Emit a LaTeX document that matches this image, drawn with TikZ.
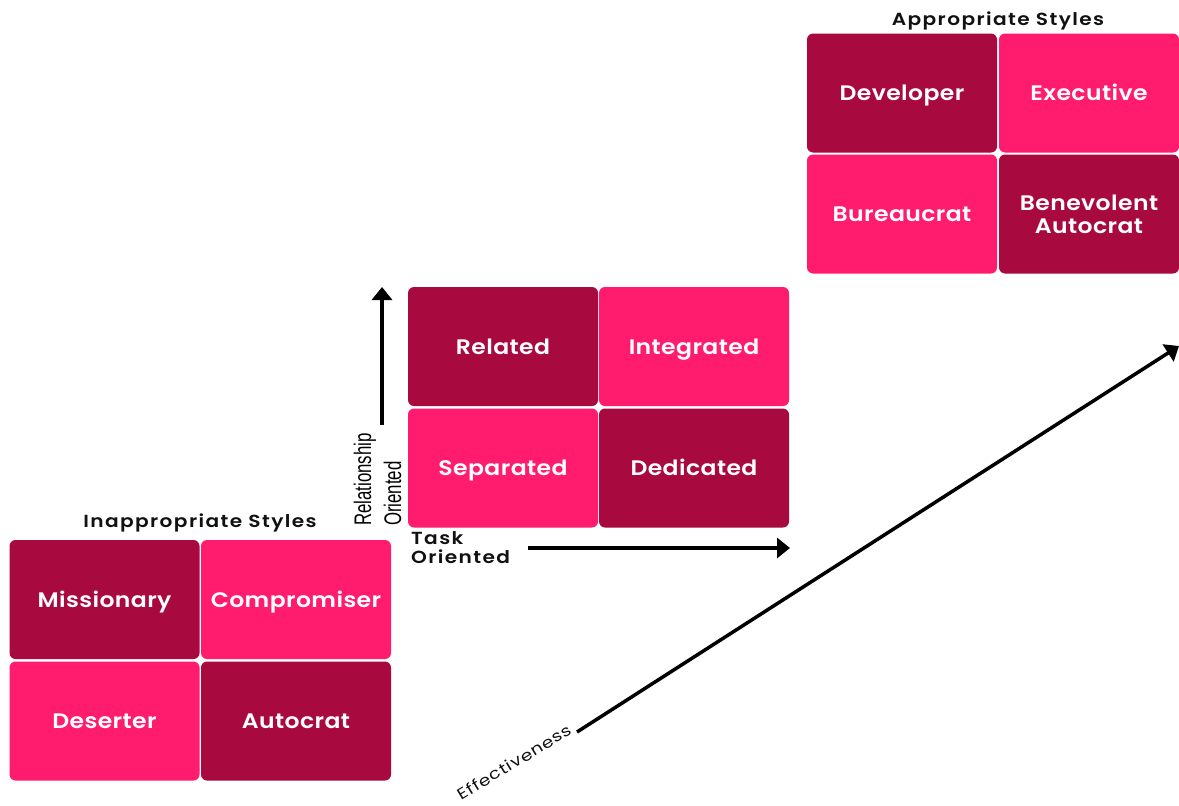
\documentclass[tikz,border=0pt]{standalone}
\usepackage{fontspec}
\setmainfont{Poppins}
\newfontfamily\cellfont{Poppins SemiBold}[FakeStretch=1.12, LetterSpace=2]
\newfontfamily\titlefont{Poppins SemiBold}[FakeStretch=1.15, LetterSpace=8]
\newfontfamily\effont{Poppins}[FakeStretch=1.2, LetterSpace=5]
\newfontfamily\axisfont{Liberation Sans}
\usetikzlibrary{arrows.meta}
\definecolor{darkc}{HTML}{A8093F}
\definecolor{lightc}{HTML}{FF1C6E}
\definecolor{inkc}{HTML}{111111}
\tikzset{
  cell/.style={rounded corners=6pt, minimum width=190pt, minimum height=119pt, inner sep=0pt,
    text=white, align=center, font=\cellfont\fontsize{21}{23}\selectfont},
  onel/.style={text height=15pt, text depth=0pt},
  darkcell/.style={cell, fill=darkc},
  lightcell/.style={cell, fill=lightc},
  gtitle/.style={text=inkc, font=\titlefont\fontsize{17.5}{20}\selectfont},
  axis/.style={line width=3.5pt, draw=black, -{Triangle[length=13pt,width=20pt]}},
}
\begin{document}
\begin{tikzpicture}[x=1pt,y=-1pt]
\fill[white] (0,0) rectangle (1179,806);
\useasboundingbox (0,0) rectangle (1179,806);
% top-right grid
\node[gtitle] (t1) at (998,21) {Appropriate Styles};
\node[darkcell, onel] (dev) at (902,93) {Developer};
\node[lightcell, onel, minimum width=180pt] (exe) at (1089,93) {Executive};
\node[lightcell, onel] (bur) at (902,214) {Bureaucrat};
\node[darkcell, minimum width=180pt] (ben) at (1089,214) {Benevolent\\Autocrat};
% middle grid
\node[darkcell, onel] (rel) at (503,346.5) {Related};
\node[lightcell, onel] (int) at (694,346.5) {Integrated};
\node[lightcell, onel] (sep) at (503,468) {Separated};
\node[darkcell, onel] (ded) at (694,468) {Dedicated};
% bottom-left grid
\node[gtitle] (t2) at (200,523) {Inappropriate Styles};
\node[darkcell, onel] (mis) at (104.5,599.5) {Missionary};
\node[lightcell, onel] (com) at (296,599.5) {Compromiser};
\node[lightcell, onel] (des) at (104.5,721) {Deserter};
\node[darkcell, onel] (aut) at (296,721) {Autocrat};
% axes
\coordinate (v0) at (382,425);
\coordinate (v1) at (382,287);
\draw[axis] (v0) -- (v1);
\coordinate (h0) at (528,548);
\coordinate (h1) at (790,548);
\draw[axis] (h0) -- (h1);
\coordinate (d0) at (577,732);
\coordinate (d1) at (1179,346);
\draw[axis] (d0) -- (d1);
\node[rotate=90, anchor=north west, inner sep=0pt, text=black] (rlab) at (350,526)
  {\axisfont\fontsize{24}{30}\selectfont\scalebox{0.7}[1]{\begin{tabular}{@{}l@{}}Relationship\\Oriented\end{tabular}}};
\node[anchor=north west, inner sep=0pt, align=left, text=inkc, font=\titlefont\fontsize{17.5}{19}\selectfont] (tlab) at (411,531) {Task\\Oriented};
\node[rotate=31, anchor=south east, inner sep=1pt, text=inkc, font=\effont\fontsize{15.5}{18}\selectfont] (elab) at (575,734) {Effectiveness};
\end{tikzpicture}
\end{document}
